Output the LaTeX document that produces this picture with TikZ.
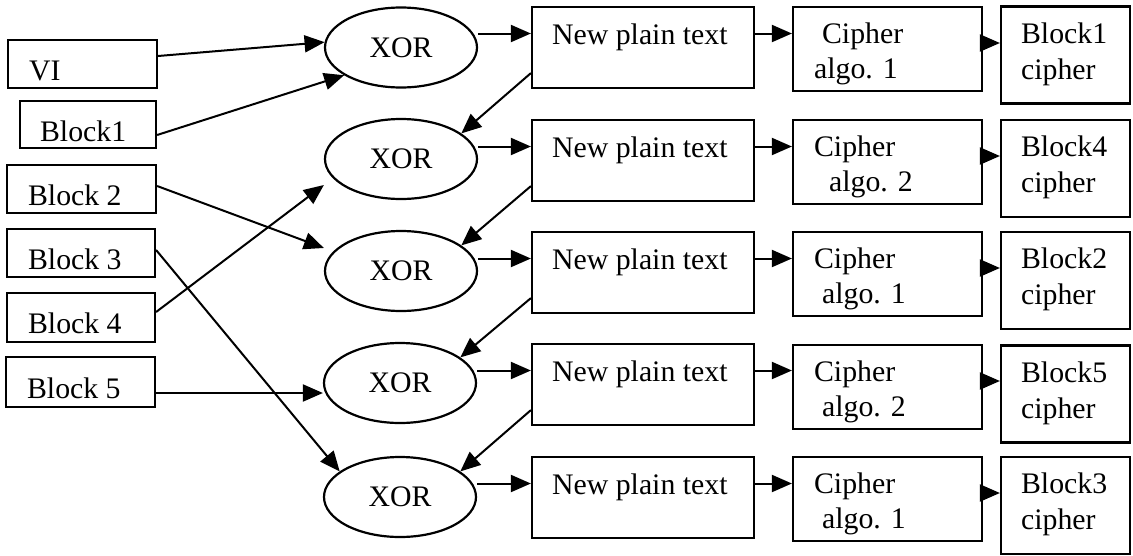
\documentclass[tikz,border=0pt]{standalone}
\usepackage{fontspec}
\setmainfont{Liberation Serif}
\usetikzlibrary{arrows.meta,calc,shapes.geometric}
\newcommand\mainsz{\fontsize{29.8}{36}\selectfont}
\begin{document}
\begin{tikzpicture}[x=1pt,y=-1pt,
  frame/.style={draw, line width=2.2pt, rectangle, inner sep=0pt},
  xorshape/.style={draw, line width=2.2pt, ellipse, inner sep=0pt,
    minimum width=152pt, minimum height=80pt, font=\mainsz},
  lbl/.style={inner sep=0pt, anchor=base west, font=\mainsz},
  arr/.style={line width=2pt, -{Triangle[length=20pt,width=17pt]}}]
\useasboundingbox (0,0) rectangle (1133,555);

% input blocks
\node[frame, minimum width=149pt, minimum height=48pt] (vi) at (82.5,64) {};
\node[frame, minimum width=136pt, minimum height=47pt] (b1) at (88,124.5) {};
\node[frame, minimum width=149pt, minimum height=48pt] (b2) at (81.5,189) {};
\node[frame, minimum width=148pt, minimum height=48pt] (b3) at (81,253) {};
\node[frame, minimum width=148pt, minimum height=49pt] (b4) at (81,317.5) {};
\node[frame, minimum width=149pt, minimum height=50pt] (b5) at (80.5,382) {};
\node[lbl] (tvi) at ($(vi.south west)+(22,-9)$) {VI};
\node[lbl] (tb1) at ($(b1.south west)+(21,-8)$) {Block1};
\node[lbl] (tb2) at ($(b2.south west)+(22,-9)$) {Block 2};
\node[lbl] (tb3) at ($(b3.south west)+(22,-9)$) {Block 3};
\node[lbl] (tb4) at ($(b4.south west)+(22,-10)$) {Block 4};
\node[lbl] (tb5) at ($(b5.south west)+(22,-10)$) {Block 5};

% XOR stages
\node[xorshape] (x1) at (401,47.5) {XOR};
\node[xorshape] (x2) at (401,159) {XOR};
\node[xorshape] (x3) at (401,271) {XOR};
\node[xorshape] (x4) at (400,383) {XOR};
\node[xorshape] (x5) at (400,497) {XOR};

% new plain text boxes
\foreach \i/\y in {1/47.5,2/160.5,3/272.5,4/384.5,5/497.5} {
  \node[frame, minimum width=222pt, minimum height=81pt] (p\i) at (643,\y) {};
  \node[lbl] (tp\i) at ($(p\i.north west)+(21,39)$) {New plain text};
}

% cipher algorithm boxes
\foreach \i/\y/\da/\db/\n in {1/49/30/22/1,2/162/22/37/2,3/274/22/30/1,4/387/22/30/2,5/499/22/30/1} {
  \node[frame, minimum width=189pt, minimum height=84pt] (c\i) at (887.5,\y) {};
  \node[lbl] (tca\i) at ($(c\i.north west)+(\da,38)$) {Cipher};
  \node[lbl] (tcb\i) at ($(c\i.north west)+(\db,73)$) {algo. \n};
}

% cipher output boxes
\foreach \i/\y/\n in {1/55/1,2/168.5/4,3/280.5/2,4/394/5,5/505.5/3} {
  \node[frame, minimum width=129pt, minimum height=97pt] (k\i) at (1065.5,\y) {};
  \node[lbl] (tka\i) at ($(k\i.north west)+(21,38)$) {Block\n};
  \node[lbl] (tkb\i) at ($(k\i.north west)+(21,74)$) {cipher};
}

% inputs into the XOR stages
\draw[arr] ($(vi.east)+(0,-8)$) -- (x1.176);
\draw[arr] ($(b1.east)+(0,10.5)$) -- (x1.206);
\draw[arr] ($(b2.east)+(0,-3)$) -- ($(x3.west)+(0,-23)$);
\draw[arr] ($(b4.east)+(0,-5.5)$) -- ($(x2.west)+(0,26)$);
\draw[arr] ($(b3.east)+(0,-3)$) -- (x5.157);
\draw[arr] ($(b5.east)+(0,11)$) coordinate (b5o) -- (b5o -| x4.west);

% row flow
\foreach \i in {1,...,5} {
  \path ($(p\i.west)+(0,-14)$) coordinate (pin\i);
  \draw[arr] (x\i.east |- pin\i) -- (pin\i);
  \path ($(p\i.east)+(0,-14)$) coordinate (pout\i);
  \draw[arr] (pout\i) -- (pout\i -| c\i.west);
  \path ($(c\i.east)+(0,-6)$) coordinate (cout\i);
  \draw[arr] (cout\i) -- (cout\i -| k\i.west);
}

% chaining into the next XOR
\foreach \i/\j in {1/2,2/3,3/4,4/5} {
  \draw[arr] ($(p\i.south west)+(0,-16)$) -- (x\j.23);
}
\end{tikzpicture}
\end{document}
